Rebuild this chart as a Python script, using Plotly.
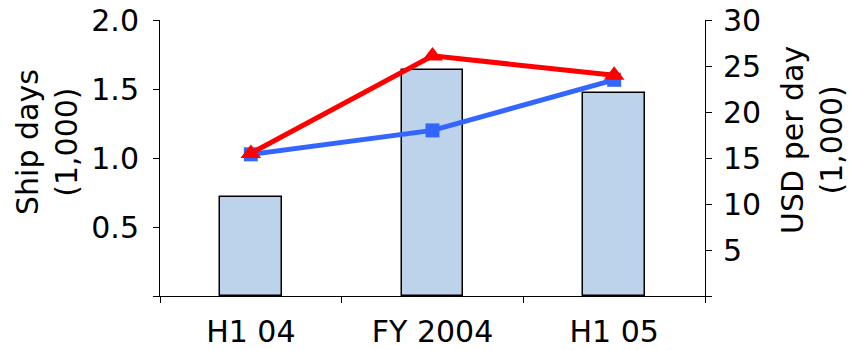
import plotly.graph_objects as go

categories = ["H1 04", "FY 2004", "H1 05"]
ship_days = [0.72, 1.64, 1.47]          # left axis, bars (1,000)
usd_red = [15.5, 26.1, 24.0]            # right axis, red triangles
usd_blue = [15.4, 18.0, 23.5]           # right axis, blue squares

left_ticks = [0, 0.5, 1.0, 1.5, 2.0]
left_labels = ["", "0.5", "1.0", "1.5", "2.0"]
right_ticks = [0, 5, 10, 15, 20, 25, 30]
right_labels = ["", "5", "10", "15", "20", "25", "30"]

FONT = dict(family="DejaVu Sans", size=30, color="black")

fig = go.Figure()
fig.add_trace(go.Bar(
    x=categories, y=ship_days, width=0.34,
    marker=dict(color="#BDD3EC", line=dict(color="black", width=1.5)),
    yaxis="y", showlegend=False))
fig.add_trace(go.Scatter(
    x=categories, y=usd_blue, mode="lines+markers",
    line=dict(color="#3366FF", width=5),
    marker=dict(symbol="square", size=14, color="#3366FF"),
    yaxis="y2", showlegend=False))
fig.add_trace(go.Scatter(
    x=categories, y=usd_red, mode="lines+markers",
    line=dict(color="#FF0000", width=5),
    marker=dict(symbol="triangle-up", size=18, color="#FF0000"),
    yaxis="y2", showlegend=False))

fig.update_layout(
    width=850, height=350,
    margin=dict(l=160, r=145, t=20, b=54),
    paper_bgcolor="white", plot_bgcolor="white",
    font=FONT,
    bargap=0,
    xaxis=dict(type="category", tickson="boundaries", ticks="outside", ticklen=6,
               tickcolor="black", showline=True, linecolor="black", linewidth=1,
               showgrid=False, tickfont=FONT, range=[-0.5, 2.5],
               automargin=False, ticklabelstandoff=9),
    yaxis=dict(range=[0, 2], tickvals=left_ticks, ticktext=left_labels,
               ticks="outside", ticklen=6, tickcolor="black", showline=True,
               linecolor="black", linewidth=1, showgrid=False, zeroline=False,
               tickfont=FONT, ticklabelstandoff=8, automargin=False),
    yaxis2=dict(range=[0, 30], tickvals=right_ticks, ticktext=right_labels,
                overlaying="y", side="right",
                ticks="outside", ticklen=6, tickcolor="black", showline=True,
                linecolor="black", linewidth=1, showgrid=False, zeroline=False,
                tickfont=FONT, ticklabelstandoff=5, automargin=False),
    annotations=[
        dict(text="Ship days<br>(1,000)", textangle=-90, xref="paper", yref="paper",
             x=(47 - 160) / 545, y=(296 - 142) / 276, xanchor="center", yanchor="middle",
             showarrow=False, font=FONT),
        dict(text="USD per day<br>(1,000)", textangle=-90, xref="paper", yref="paper",
             x=(812 - 160) / 545, y=(296 - 140) / 276, xanchor="center", yanchor="middle",
             showarrow=False, font=FONT),
    ],
)

fig.write_html("out.html")
